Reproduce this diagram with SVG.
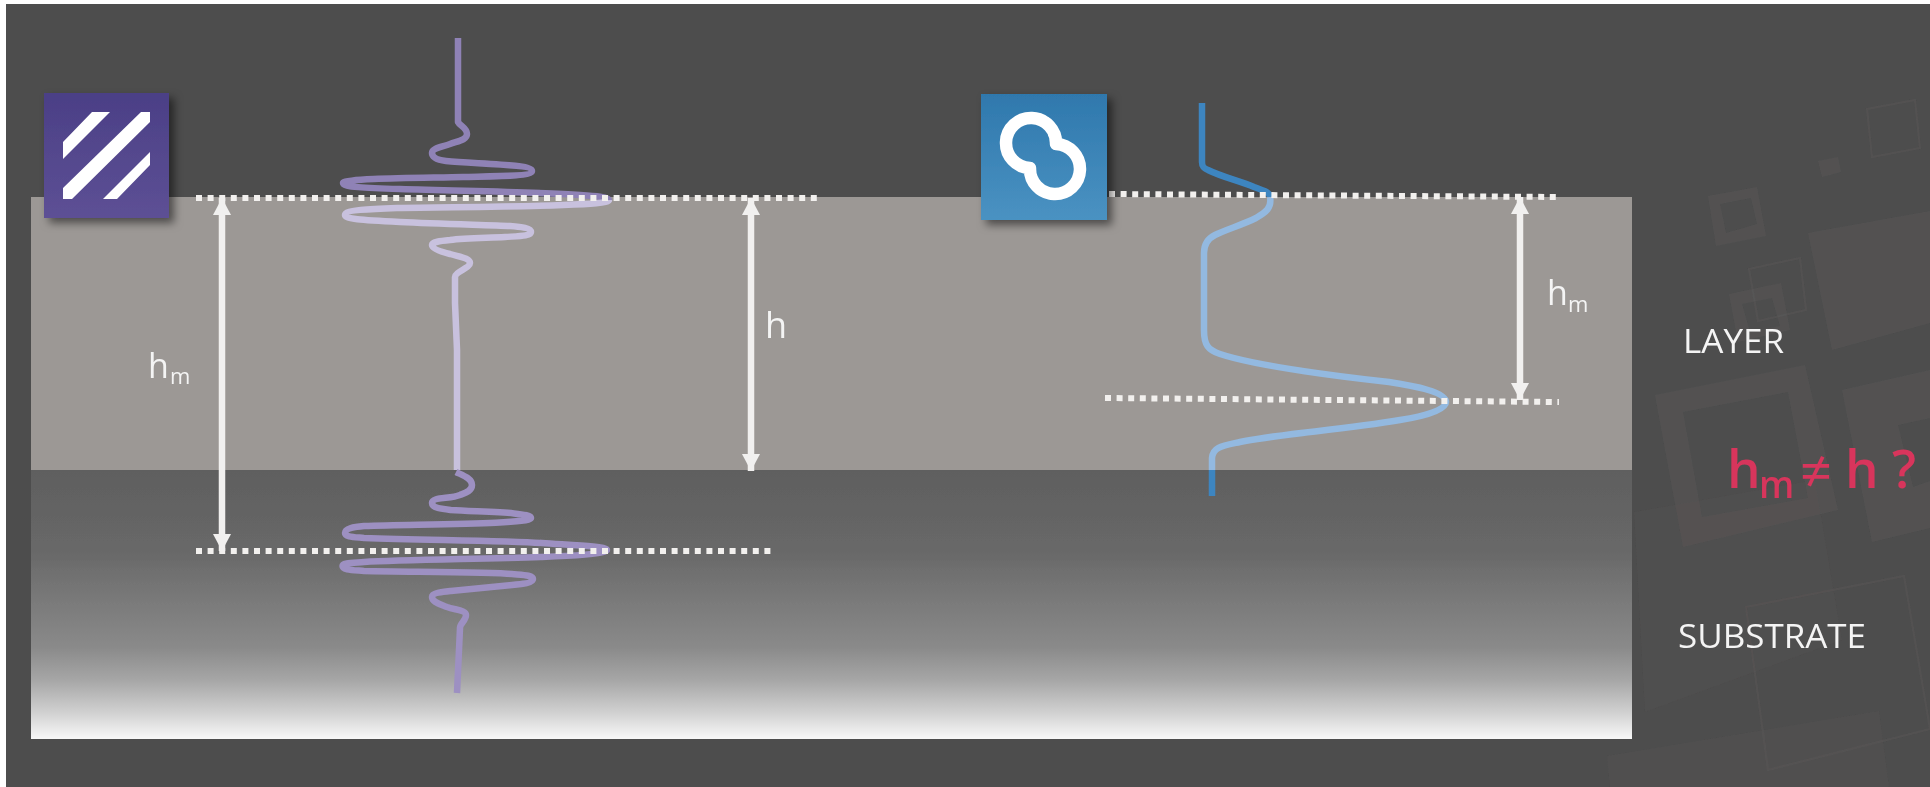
<svg xmlns="http://www.w3.org/2000/svg" width="1930" height="787" viewBox="0 0 1930 787">
<style>
.t{font-family:"Open Sans","Noto Sans","Liberation Sans",sans-serif;fill:#f4f4f4;font-weight:500}
.r{font-family:"Open Sans","Noto Sans","Liberation Sans",sans-serif;fill:#d8355b;font-weight:600}
.d{fill:none;stroke:#f2f0ee;stroke-width:6;stroke-dasharray:6 5.6}
.w{fill:none;stroke-width:6.500;stroke-linejoin:round;stroke-linecap:butt}
.a{stroke:#f1f0ef;stroke-width:6.500;fill:none;marker-start:url(#h);marker-end:url(#h)}
.s{fill:#5a5757;opacity:.5}
.o{fill:none;stroke:#5a5757;stroke-width:2;opacity:.5}
</style>
<defs>
<linearGradient id="sub" x1="0" y1="0" x2="0" y2="1">
<stop offset="0" stop-color="#5f5f5f"/><stop offset=".3" stop-color="#686868"/><stop offset=".66" stop-color="#8a8a8a"/><stop offset=".78" stop-color="#a6a6a6"/><stop offset=".9" stop-color="#d0d0d0"/><stop offset="1" stop-color="#f8f8f8"/>
</linearGradient>
<linearGradient id="pu" x1="0" y1="0" x2="0" y2="1"><stop offset="0" stop-color="#4b3f86"/><stop offset="1" stop-color="#5d5095"/></linearGradient>
<linearGradient id="bl" x1="0" y1="0" x2="0" y2="1"><stop offset="0" stop-color="#2f78ad"/><stop offset="1" stop-color="#4a92c2"/></linearGradient>
<filter id="sh" x="-20%" y="-20%" width="140%" height="140%"><feDropShadow dx="5" dy="5" stdDeviation="4" flood-color="#000" flood-opacity=".5"/></filter>
<filter id="b" x="0" y="0" width="1" height="1" filterUnits="objectBoundingBox"><feGaussianBlur stdDeviation=".7"/></filter>
<marker id="h" markerUnits="userSpaceOnUse" markerWidth="18" markerHeight="18" refX="17" refY="9" orient="auto-start-reverse"><path d="M0 0L17 9L0 18Z" fill="#f1f0ef"/></marker>
</defs>
<rect width="1930" height="787" fill="#fff"/>
<rect x="6" y="4" width="1924" height="783" fill="#4d4d4d"/>
<g filter="url(#b)">
<g id="background">
<path class="o" d="M1867 109L1915 100L1920 148L1872 157Z"/>
<path class="s" d="M1818 161L1838 157L1841 172L1822 177Z"/>
<path class="s" fill-rule="evenodd" d="M1708 196L1757 187L1766 236L1716 246ZM1720 204L1726 233L1757 224L1751 198Z"/>
<path class="s" d="M1808 233L1930 211L1930 323L1832 350Z"/>
<path class="s" fill-rule="evenodd" d="M1729 294L1781 283L1790 330L1738 342ZM1742 304L1750 332L1780 326L1772 298Z"/>
<path class="o" d="M1749 269L1800 258L1806 310L1758 321Z"/>
<path class="s" fill-rule="evenodd" d="M1655 395L1805 365L1838 510L1683 547ZM1683 412L1702 517L1808 498L1788 392Z"/>
<path class="s" fill-rule="evenodd" d="M1842 390L1930 370L1930 528L1872 542ZM1898 425L1913 487L1930 481L1930 418Z"/>
<path class="s" d="M1634 512L1815 480L1842 640L1645 712Z" style="opacity:.2"/>
<path class="o" d="M1746 607L1904 576L1930 729L1768 770Z"/>
<path class="s" d="M1607 756L1879 711L1889 787L1610 787Z" style="opacity:.25"/>
</g>
<g id="layer"><rect x="31" y="197" width="1601" height="273" fill="#9c9895"/></g>
<g id="substrate"><rect x="31" y="470" width="1601" height="269" fill="url(#sub)"/></g>
<g id="wave-left">
<path class="w" stroke="#8f82b6" d="M458 38V122C460 126 467 128 467 134C467 140 458 141 450 144C442 147 432 148 432 153C432 158 438 160 446 161C475 164 532 164 532 171C532 176 500 176 463 177C430 178 343 178 343 183C343 187 365 188 400 189C460 191 540 192 580 195C595 196 609 197 609 200"/>
<path class="w" stroke="#c8c1de" d="M609 200C609 203 590 204 563 205C510 207 450 207 397 208C370 209 345 210 345 215C345 219 360 220 400 222C440 224 490 225 510 226C522 227 531 228 531 232C531 236 520 236 505 237C485 238 465 238 450 240C440 241 432 242 432 245C432 249 442 252 450 254C460 257 470 258 470 263C470 268 455 272 455 277V303L457 350V470"/>
<path class="w" stroke="#9d90c2" d="M456 472C462 475 472 478 472 485C472 491 465 493 460 495C450 499 432 497 432 503C432 508 442 509 451 510C480 512 531 512 531 518C531 524 430 524 364 526C354 527 345 528 345 533C345 537 354 537 364 538C430 540 510 541 542 543C570 545 607 546 607 550C607 554 570 556 542 557C480 559 400 560 364 562C352 563 342.500 563 342.500 566C342.500 570 352 570 364 571C420 572 490 572 512 574C523 575 533 575 533 579C533 583 523 584 512 585C490 587 470 589 451 591C442 592 432 593 432 597C432 602 440 604 447 607C455 610 466 610 466 615C466 621 460 623 460 628L457 693"/>
</g>
<g id="wave-right">
<path class="w" stroke="#3d85c0" d="M1202 103V162C1202 166 1203 168 1208 170C1222 177 1240 181 1254 187C1262 190 1270 192 1270 197"/>
<path class="w" stroke="#93b9e0" d="M1270 197C1272 208 1266 212 1256 218C1242 225 1227 229 1215 235C1207 239 1204 245 1204 253L1204 330C1204 345 1208 350 1220 354C1250 364 1300 372 1389 382C1415 386 1446 392 1446 402C1446 410 1425 416 1400 420C1340 430 1280 434 1240 442C1222 446 1213 447 1212 458V470"/>
<path class="w" stroke="#3d85c0" d="M1212 470V496"/>
</g>
<g id="connectors">
<path class="d" d="M196 198H820"/>
<path class="d" d="M196 551H771"/>
<path class="d" d="M1109 194L1557 197"/>
<path class="d" d="M1105 398L1559 402"/>
<path class="a" d="M222 198V551"/>
<path class="a" d="M751 198V471"/>
<path class="a" d="M1520 197V400"/>
</g>
<g id="icon-purple">
<rect x="44" y="93" width="125" height="125" fill="url(#pu)" filter="url(#sh)"/>
<path fill="#fff" d="M63 142L92 112H110L63 159ZM141 112H150V122L72 199H63V188ZM150 152V165L117 199H103Z"/>
</g>
<g id="icon-blue">
<rect x="981" y="94" width="126" height="126" fill="url(#bl)" filter="url(#sh)"/>
<path fill="none" stroke="#fff" stroke-width="12.500" stroke-linejoin="round" d="M1056 144A25 25 0 1 0 1030 168A25 25 0 1 0 1056 144Z"/>
</g>
<g id="labels">
<text class="t" x="148" y="378" font-size="34">h</text><text class="t" x="170" y="384" font-size="22">m</text>
<text class="t" x="765" y="338" font-size="36">h</text>
<text class="t" x="1547" y="305" font-size="34">h</text><text class="t" x="1568" y="312" font-size="22">m</text>
<text class="t" x="1683" y="353" font-size="32" textLength="101" lengthAdjust="spacingAndGlyphs">LAYER</text>
<text class="t" x="1678" y="648" font-size="32" textLength="188" lengthAdjust="spacingAndGlyphs">SUBSTRATE</text>
<text class="r" x="1727" y="488" font-size="53">h</text>
<text class="r" x="1759" y="498" font-size="37" font-weight="500">m</text>
<text class="r" x="1800" y="491" font-size="56" style="font-weight:500">≠</text>
<text class="r" x="1845" y="488" font-size="53">h</text>
<text class="r" x="1892" y="488" font-size="53">?</text>
</g>
</g>
</svg>
